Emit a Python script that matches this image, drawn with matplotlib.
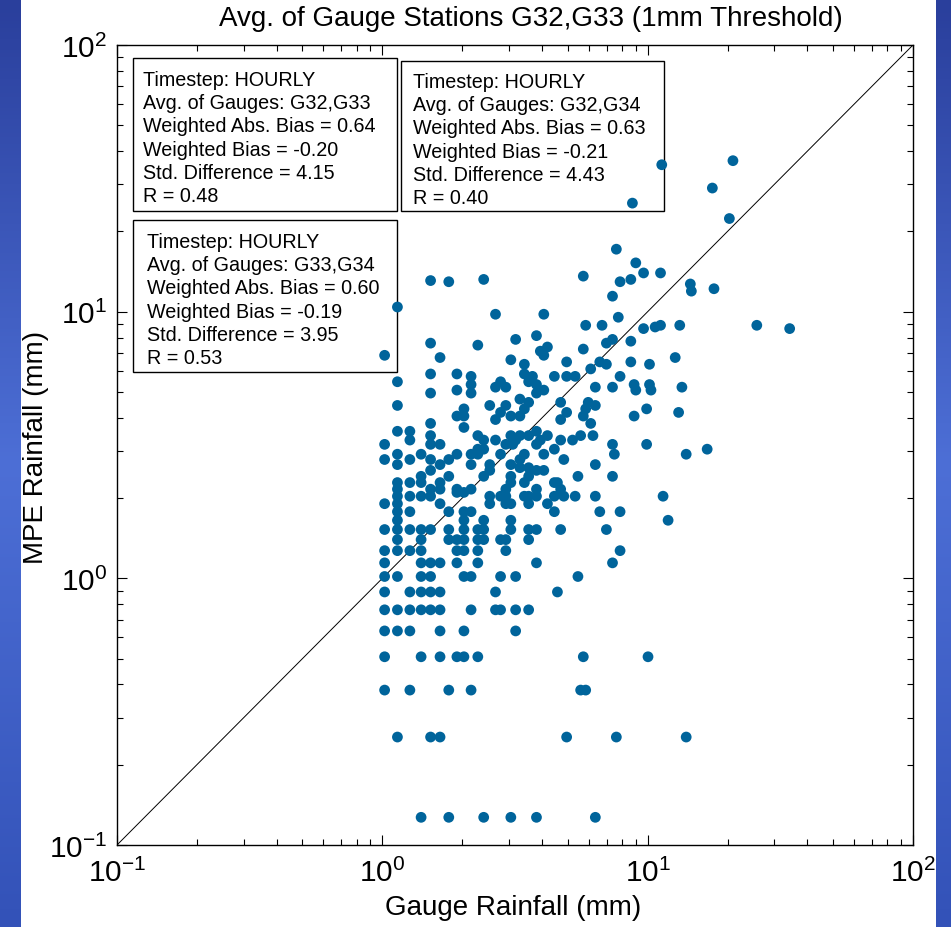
# -*- coding: utf-8 -*-
import numpy as np
import matplotlib.pyplot as plt
from matplotlib.patches import Rectangle
from matplotlib.colors import LinearSegmentedColormap

# lower part of the cloud: MPE values come in steps, one row per MPE value
row_mpe = [0.127, 0.254, 0.381, 0.508, 0.635, 0.762, 0.889, 1.016, 1.143, 1.27,
           1.397, 1.524, 1.651, 1.778, 1.905, 2.032, 2.10, 2.159, 2.286, 2.413, 2.54]
row_gauge = [
    [1.40, 1.78, 2.41, 3.05, 3.81, 6.35],
    [1.14, 1.52, 1.65, 4.95, 7.62, 13.97],
    [1.02, 1.27, 1.78, 2.16, 5.59, 5.84],
    [1.02, 1.40, 1.65, 1.91, 2.03, 2.29, 5.72, 10.03],
    [1.02, 1.14, 1.27, 1.65, 2.03, 3.18],
    [1.02, 1.14, 1.27, 1.40, 1.52, 1.65, 2.16, 2.67, 2.79, 3.18, 3.56],
    [1.02, 1.27, 1.40, 1.52, 1.65, 2.67, 4.57],
    [1.02, 1.14, 1.40, 1.52, 2.03, 2.16, 2.79, 3.18, 5.46],
    [1.02, 1.40, 1.52, 1.65, 1.91, 2.29, 3.81, 7.37],
    [1.02, 1.14, 1.27, 1.40, 1.91, 2.03, 2.29, 2.92, 7.87],
    [1.14, 1.40, 1.78, 1.91, 2.03, 2.29, 2.41, 2.79, 2.92, 3.56],
    [1.02, 1.14, 1.27, 1.40, 1.52, 1.78, 2.03, 2.29, 2.41, 3.05, 3.56, 3.81, 4.70, 6.99],
    [1.14, 2.03, 2.41, 3.05, 11.94],
    [1.14, 1.27, 1.78, 2.03, 2.16, 4.45, 6.60, 7.87],
    [1.02, 1.14, 1.65, 2.54, 2.92, 3.05, 3.56, 4.19],
    [1.14, 1.27, 1.40, 1.52, 2.54, 2.79, 2.92, 3.43, 3.56, 3.81, 4.45, 4.83, 5.33, 6.35, 11.43],
    [1.91, 2.03],
    [1.14, 1.52, 1.65, 1.91, 2.16, 2.92, 3.81, 4.70],
    [1.14, 1.27, 1.40, 1.65, 3.05, 3.43, 4.45, 4.57],
    [1.40, 1.78, 2.41, 3.05, 3.56, 5.46, 7.37],
    [1.52, 2.54, 3.81, 4.06],
]

# upper part of the cloud (gauge, MPE)
gauge_hi = [1.02, 1.14, 1.14, 1.27, 1.40, 1.52, 1.65, 1.78, 1.91, 2.16, 2.16, 2.29, 2.54, 2.79,
            3.43, 3.30, 4.06, 4.83, 3.05, 3.30, 6.35, 3.56, 7.49,
            1.14, 1.52, 1.91, 2.16, 2.16, 2.79, 2.67, 2.92, 1.52, 1.91, 2.16, 1.14, 2.54, 2.03,
            1.91, 2.03, 2.92, 2.79, 2.67, 3.05, 1.52, 2.03, 1.14, 1.27, 1.27, 1.52, 1.52, 1.65,
            1.02, 2.29, 2.41, 2.67, 3.05, 2.29, 2.41,
            3.43, 3.68, 3.81, 3.56, 4.45, 4.95, 5.33, 7.87, 3.81, 4.06, 6.35, 7.37, 8.89, 9.02,
            3.30, 3.56, 3.43, 4.70, 5.97, 6.35, 5.84, 3.30, 4.95, 4.70, 5.72, 6.10, 8.89, 3.81,
            3.30, 3.18, 3.56, 4.19, 4.70, 5.21, 5.59, 6.22, 7.37, 2.92, 3.10, 3.81, 3.94, 4.45,
            1.14, 1.02, 1.52, 1.78, 2.41, 2.67, 4.06, 5.72, 7.62, 9.02, 7.87, 8.64, 7.37, 7.75,
            5.84, 6.73, 7.37, 6.99, 8.64, 5.72, 1.52, 1.65, 2.29, 3.18, 3.81, 3.94, 4.06, 4.19,
            3.05, 3.43, 4.95, 6.10, 6.60, 6.99, 8.64,
            9.65, 11.18, 9.65, 10.67, 11.18, 13.21, 10.16, 12.70, 10.16, 10.29, 13.46, 9.91,
            13.08, 9.91, 13.97, 16.76, 14.48, 14.61, 17.78, 25.78, 34.29, 11.30, 20.96, 8.76,
            17.53, 20.32]
mpe_hi = [2.79, 2.92, 2.67, 2.79, 2.92, 2.79, 2.67, 2.79, 2.92, 2.92, 2.67, 2.92, 2.67, 2.92,
          2.92, 2.79, 2.92, 2.79, 2.67, 2.60, 2.67, 2.60, 2.92,
          5.46, 5.84, 5.84, 5.72, 5.33, 5.46, 5.21, 5.21, 4.95, 5.08, 4.95, 4.45, 4.45, 4.32,
          4.06, 4.06, 4.45, 4.19, 3.94, 4.06, 3.81, 3.68, 3.56, 3.56, 3.30, 3.43, 3.18, 3.18,
          3.18, 3.43, 3.30, 3.30, 3.43, 3.05, 3.05,
          5.84, 5.72, 5.33, 5.46, 5.72, 5.72, 5.72, 5.72, 4.95, 5.08, 5.21, 5.21, 5.33, 5.08,
          4.70, 4.57, 4.32, 4.57, 4.57, 4.45, 4.32, 4.06, 4.19, 3.94, 4.06, 3.81, 4.06, 3.56,
          3.43, 3.30, 3.43, 3.43, 3.30, 3.30, 3.43, 3.43, 3.18, 3.18, 3.18, 3.18, 3.30, 3.05,
          10.41, 6.86, 13.08, 12.95, 13.21, 9.78, 9.78, 13.59, 17.15, 15.24, 12.95, 13.21, 11.43, 9.53,
          8.89, 8.89, 7.87, 7.62, 7.75, 7.24, 7.62, 6.73, 7.49, 7.87, 8.13, 7.11, 6.86, 7.37,
          6.60, 6.35, 6.48, 6.10, 6.48, 6.35, 6.48,
          13.97, 13.97, 8.64, 8.76, 8.89, 8.89, 6.35, 6.73, 5.33, 5.08, 5.21, 4.32,
          4.19, 3.18, 2.92, 3.05, 12.70, 11.94, 12.19, 8.89, 8.64, 35.56, 36.83, 25.53,
          29.08, 22.35]

box_lines = [
    ['Timestep: HOURLY', 'Avg. of Gauges: G32,G33', 'Weighted Abs. Bias = 0.64',
     'Weighted Bias = -0.20', 'Std. Difference = 4.15', 'R = 0.48'],
    ['Timestep: HOURLY', 'Avg. of Gauges: G32,G34', 'Weighted Abs. Bias = 0.63',
     'Weighted Bias = -0.21', 'Std. Difference = 4.43', 'R = 0.40'],
    ['Timestep: HOURLY', 'Avg. of Gauges: G33,G34', 'Weighted Abs. Bias = 0.60',
     'Weighted Bias = -0.19', 'Std. Difference = 3.95', 'R = 0.53'],
]

gauge = np.concatenate([row_gauge[i] for i in range(len(row_mpe))] + [gauge_hi])
mpe = np.concatenate([[row_mpe[i]] * len(row_gauge[i]) for i in range(len(row_mpe))] + [mpe_hi])

W, H = 951, 928
plt.rcParams['font.family'] = ['Liberation Sans', 'DejaVu Sans']
plt.rcParams['axes.unicode_minus'] = False

fig = plt.figure(figsize=(W / 100, H / 100), dpi=100)
fig.patch.set_facecolor('white')

# blue slide background strips at the sides
cm = LinearSegmentedColormap.from_list('slide', ['#2a3f9c', '#4d6fd6', '#3352b8'])
grad = np.linspace(0, 1, 256).reshape(-1, 1)
for x0, w in [(0, 21), (936, 15)]:
    sa = fig.add_axes([x0 / W, 0, w / W, 1])
    sa.imshow(grad, aspect='auto', cmap=cm)
    sa.axis('off')

ax = fig.add_axes([117 / W, 1 - 846 / H, (913 - 117) / W, 800 / H])
ax.set_xscale('log')
ax.set_yscale('log')
ax.set_xlim(0.1, 100)
ax.set_ylim(0.1, 100)

ax.plot([0.1, 100], [0.1, 100], color='black', lw=0.7, zorder=2)
ax.scatter(gauge, mpe, s=60, color='#00649b', edgecolors='none', zorder=3)

ax.tick_params(which='both', direction='in', top=True, right=True, width=0.8)
ax.tick_params(which='major', length=7, labelsize=21.5)
ax.tick_params(axis='x', which='major', pad=9)
ax.tick_params(axis='y', which='major', pad=7)
ax.tick_params(which='minor', length=4)
for sp in ax.spines.values():
    sp.set_linewidth(1.0)

# statistics boxes
boxes = [(133, 59, 397, 212, 143, 80), (401, 62, 664, 212, 413, 82), (133, 221, 397, 373, 147, 242)]
for (x0, y0, x1, y1, tx, ty), lines in zip(boxes, box_lines):
    ax.add_patch(Rectangle((x0 / W, 1 - y1 / H), (x1 - x0) / W, (y1 - y0) / H,
                           transform=fig.transFigure, facecolor='white', edgecolor='black',
                           lw=1.0, zorder=1))
    for i, t in enumerate(lines):
        fig.text(tx / W, 1 - (ty + i * 23.4) / H, t, fontsize=14.2, va='center', ha='left')

fig.text(531 / W, 1 - 19 / H, 'Avg. of Gauge Stations G32,G33 (1mm Threshold)',
         fontsize=20, ha='center', va='center')
fig.text(513 / W, 1 - 908 / H, 'Gauge Rainfall (mm)', fontsize=20, ha='center', va='center')
fig.text(36 / W, 1 - 447 / H, 'MPE Rainfall (mm)', fontsize=20, ha='center', va='center',
         rotation=90)

fig.savefig('out.png', dpi=100)
